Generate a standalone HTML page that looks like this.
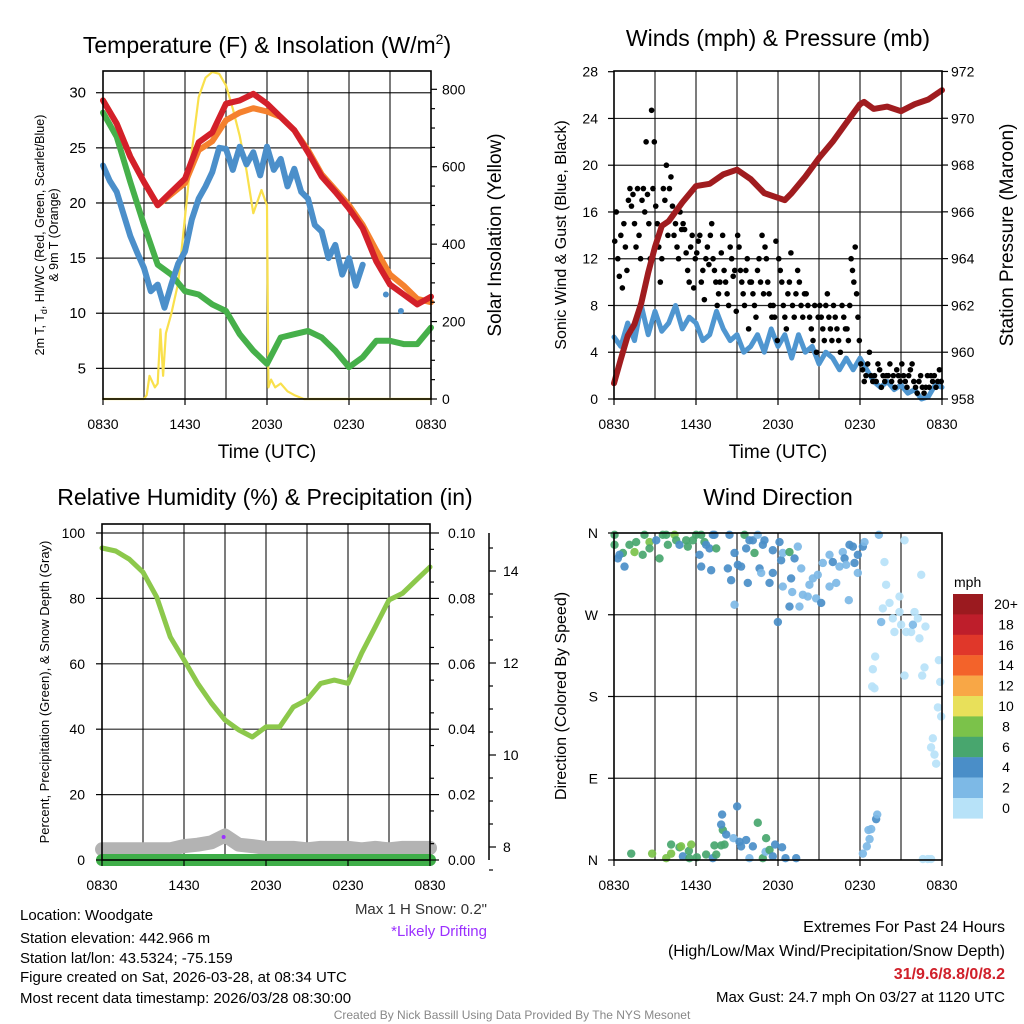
<!DOCTYPE html>
<html><head><meta charset="utf-8">
<style>
body{margin:0;background:#fff;}
svg{display:block;font-family:"Liberation Sans",Arial,sans-serif;}
</style></head>
<body>
<svg id="root" width="1024" height="1024" viewBox="0 0 1024 1024" xmlns="http://www.w3.org/2000/svg">
<rect x="0" y="0" width="1024" height="1024" fill="#fff"/>
<text x="267" y="53" font-size="23" text-anchor="middle">Temperature (F) &amp; Insolation (W/m<tspan font-size="14" dy="-9">2</tspan><tspan dy="9">)</tspan></text>
<text x="778" y="46" font-size="23" text-anchor="middle">Winds (mph) &amp; Pressure (mb)</text>
<text x="265" y="505" font-size="23" text-anchor="middle">Relative Humidity (%) &amp; Precipitation (in)</text>
<text x="778" y="505" font-size="23" text-anchor="middle">Wind Direction</text>
<text x="267" y="458" font-size="19" text-anchor="middle">Time (UTC)</text>
<text x="778" y="458" font-size="19" text-anchor="middle">Time (UTC)</text>
<text transform="translate(44,235) rotate(-90)" font-size="12.5" text-anchor="middle">2m T, T<tspan font-size="9" dy="3">d</tspan><tspan dy="-3">, HI/WC (Red, Green, Scarlet/Blue)</tspan></text>
<text transform="translate(58,235) rotate(-90)" font-size="12.5" text-anchor="middle">&amp; 9m T (Orange)</text>
<text transform="translate(501,235) rotate(-90)" font-size="19" text-anchor="middle">Solar Insolation (Yellow)</text>
<text transform="translate(566,235) rotate(-90)" font-size="16" text-anchor="middle">Sonic Wind &amp; Gust (Blue, Black)</text>
<text transform="translate(1013,235) rotate(-90)" font-size="19" text-anchor="middle">Station Pressure (Maroon)</text>
<text transform="translate(49,692) rotate(-90)" font-size="13" text-anchor="middle">Percent, Precipitation (Green), &amp; Snow Depth (Gray)</text>
<text transform="translate(566,696) rotate(-90)" font-size="16" text-anchor="middle">Direction (Colored By Speed)</text>
<text x="954" y="587" font-size="14" text-anchor="start">mph</text>
<g font-size="15">
<text x="20" y="920">Location: Woodgate</text>
<text x="20" y="943">Station elevation: 442.966 m</text>
<text x="20" y="963">Station lat/lon: 43.5324; -75.159</text>
<text x="20" y="982">Figure created on Sat, 2026-03-28, at 08:34 UTC</text>
<text x="20" y="1003">Most recent data timestamp: 2026/03/28 08:30:00</text>
</g>
<text x="487" y="914" font-size="15" fill="#333" text-anchor="end">Max 1 H Snow: 0.2"</text>
<text x="487" y="936" font-size="15" fill="#9b30ff" text-anchor="end">*Likely Drifting</text>
<text x="1005" y="932" font-size="16" text-anchor="end">Extremes For Past 24 Hours</text>
<text x="1005" y="956" font-size="16" text-anchor="end">(High/Low/Max Wind/Precipitation/Snow Depth)</text>
<text x="1005" y="979" font-size="16" font-weight="bold" fill="#d0202a" text-anchor="end">31/9.6/8.8/0/8.2</text>
<text x="1005" y="1002" font-size="15" text-anchor="end">Max Gust: 24.7 mph On 03/27 at 1120 UTC</text>
<text x="512" y="1019" font-size="12" fill="#888" text-anchor="middle">Created By Nick Bassill Using Data Provided By The NYS Mesonet</text>
</svg>
<script>
// ---------- data ----------
const hours = [0,1,2,3,4,5,6,7,8,9,10,11,12,13,14,15,16,17,18,19,20,21,22,23,24];
const halfHours = [0,0.5,1,1.5,2,2.5,3,3.5,4,4.5,5,5.5,6,6.5,7,7.5,8,8.5,9,9.5,10,10.5,11,11.5,12,12.5,13,13.5,14,14.5,15,15.5,16,16.5,17,17.5,18,18.5,19,19.5,20,20.5,21,21.5,22,22.5,23,23.5,24];
const xTickLabels = ["0830","1430","2030","0230","0830"];
const xTickHours = [0,6,12,18,24];
const tempRed = [29.3,27.2,24.2,21.9,19.8,21,22.2,25.5,26.4,29,29.3,29.9,29,27.8,26.6,24.6,22.4,21,19.5,17.7,14.7,12.6,11.7,10.8,11.5];
const tempOrange = [29.3,27.2,24.2,21.9,19.8,20.8,21.8,24.8,25.6,27.5,28.2,28.6,28.3,27.8,26.6,24.8,22.6,21.2,19.8,18,15.7,13.5,12.5,11.3,11];
const tempBlue = [23.4,22,21,19,17,15.5,14.1,12,12.6,10.5,12.6,14.5,15.6,18.5,20.4,21.5,22.8,25,24.9,23,25.1,23.5,24.6,22.5,25.1,23,24,21.5,23.1,21,20.4,18,17.4,15,16.2,13.5,15,12.5,14.4,null,null,null,null,null,null,null,null,null,null];
const blueDotsT = [20.7,21.8];
const blueDotsV = [11.7,10.2];
const tempGreen = [28.2,26,21.9,18,14.4,13.5,12,11.7,10.8,10.2,8.1,6.6,5.4,7.8,8.1,8.4,7.8,6.6,5.1,6,7.5,7.5,7.2,7.2,8.7];
const solarT = [0,3,3.2,3.4,3.8,4,4.2,4.4,4.6,5,5.5,6,6.5,7,7.5,8,8.5,9,9.5,10,10.5,11,11.6,12,12.1,12.3,12.6,13,13.5,14,14.7,24];
const solarV = [0,0,10,60,30,40,180,60,170,220,300,470,640,780,830,845,840,810,750,680,590,480,540,500,30,50,30,40,20,10,0,0];
const tempTicks = [5,10,15,20,25,30];
const solarTicks = [0,200,400,600,800];

const windSpeed = [5.3,4.5,6.5,5,8,5.5,7.5,5.8,6.5,8,6,7,6.5,5,5.5,7.5,6,5,5.5,4,4.5,5.5,4,6,4.5,5.5,3.5,5.5,4,4.5,3,4,3.5,2.5,3.5,2.5,3.5,2.5,1.5,1,1.5,0.8,1.2,0.5,0.8,0,0.2,1.2,1];
const pressureT = [0,0.5,1,1.5,2,2.5,3,3.5,4,5,6,7,8,9,10,11,12,12.5,13,14,15,16,17,18,18.3,19,20,21,22,23,24];
const pressure = [958.67,959.7,960.7,961.2,962.1,963.4,964.5,965.4,965.6,966.4,967.1,967.2,967.6,967.8,967.4,966.8,966.6,966.5,966.8,967.5,968.3,969,969.8,970.6,970.7,970.4,970.5,970.3,970.6,970.8,971.2];
const gustByHour = [
 [13.5,16,12,10.5,14,9.5,15,13,11],[17,18,16.5,17.5,15,13,18,14,12],[17,18,16,22,17.5,15,12,24.7,18,22],
 [16.5,15,13,10,12,18,17,20,14],[18,19,16.5,14,15,13,12,16,14.5],[15,14.5,12.5,11,10,13,14,9.5,12],
 [12.5,13.5,14,10,11,8.5,12,13,11.5],[14,15,12,11,10,8,9,10,12.5,14],[11,10,9,8,13,12,10.5,11,7.5],
 [14,13,11,10,9,8,11,12,6,10],[10,9,8,7,11,12,10,14,9],[13,12,10,9,8,7,8,7,13.5,5],
 [12,11,10,8,7,6,9,10,12.5],[8,7,9,11,10,8,7,9],[9,8,7,6,5,8,4,7],[8,7,6,5,8,9,7,6,5],
 [8,7,6,5,4,8,7,6],[6,5,8,12,11,10,13,9,7,5],[3,2.5,1.5,2,3,4,2,1.5],[2,1.5,3,2.5,1,2,1.5,2],
 [2,3,1.5,2,1,2.5,2,1.5],[3,2,1.5,1,2,2.5,3,1.5],[1,0.5,1.5,2,1,0.5,1,2],[1,2,1.5,2,1,1.5,2.5,1.5]];
const windTicks = [0,4,8,12,16,20,24,28];
const pressureTicks = [958,960,962,964,966,968,970,972];

const rh = [95.4,94.5,92,88,80.4,68.2,61.2,54,48,42.8,39.8,37.6,40.7,40.7,46.8,49,54,55,54,63.3,71.3,79.5,81.6,85.6,89.6];
const precip = [0,0,0,0,0,0,0,0,0,0,0,0,0,0,0,0,0,0,0,0,0,0,0,0,0];
const snowDepth = [7.95,7.95,7.95,7.95,7.95,7.95,8.02,8.05,8.1,8.25,8.05,8.02,7.98,7.98,7.98,7.95,7.98,7.98,7.98,7.95,7.98,7.95,7.98,7.98,7.98];
const rhTicks = [0,20,40,60,80,100];
const precipTicks = ["0.00","0.02","0.04","0.06","0.08","0.10"];
const snowTicks = [8,10,12,14];

const dirT = [0.04,0.04,0.28,0.65,0.77,0.4,1.13,1.5,1.62,2.1,2.23,2.6,2.6,3.09,3.33,3.57,3.82,3.94,4.43,4.55,4.79,5.28,5.4,5.77,6.01,6.26,6.38,6.62,6.74,6.99,7.23,7.35,7.48,6.38,7.11,8.45,8.82,8.33,8.57,8.82,9.06,9.3,9.55,9.67,9.79,9.91,10.16,10.28,10.52,10.65,10.77,10.89,11.01,11.38,11.62,11.62,11.99,12.11,12.23,12.35,12.35,12.84,12.96,13.04,12.84,13.21,13.45,13.57,13.7,13.82,14.18,14.3,14.55,14.79,14.91,15.16,15.28,15.77,15.77,16.01,16.26,16.5,16.74,16.87,16.99,17.18,17.23,17.48,17.6,17.84,17.84,18.21,18.33,19.38,19.79,19.91,20.89,21.26,22.48,19.55,19.67,20.16,20.4,20.52,20.89,21.01,21.38,21.74,21.87,21.99,22.23,22.35,22.79,19.11,18.94,18.89,19.06,21.26,22.72,22.55,23.77,23.87,23.7,23.94,23.33,23.2,23.45,23.57,
 1.26,2.79,3.82,4.18,4.18,4.79,4.91,5.04,5.48,5.65,5.52,6.06,6.74,7.23,7.35,7.48,7.84,8.09,7.96,8.21,7.84,7.91,9.01,8.74,9.18,9.3,9.67,9.91,10.16,10.52,10.89,11.13,11.09,11.38,11.62,11.79,12.3,12.55,13.33,18.21,18.5,18.7,18.62,18.82,19.18,19.26,22.6,22.96,23.2];
const dirDeg = [358,347,332,338,323,336,347,339,350,336,358,350,343,352,332,358,358,347,358,352,347,352,345,352,358,336,358,350,347,343,358,358,343,323,319,358,338,321,308,281,325,323,358,343,305,352,352,338,358,321,316,347,352,305,341,316,262,350,330,338,301,339,310,295,279,332,345,279,321,292,290,303,310,288,314,283,327,336,301,328,305,323,339,332,325,286,347,345,327,336,316,345,350,358,328,303,290,352,314,262,277,283,266,251,273,259,251,251,259,273,266,244,257,224,210,191,189,203,212,203,220,196,168,158,134,124,116,106,
 7,7,2,7,17,14,15,4,10,17,2,3,6,2,16,6,16,17,33,28,39,50,59,24,20,15,22,2,15,41,2,24,9,11,4,17,14,2,2,7,15,23,33,34,45,50,1,1,1];
const dirSpd = [7,7,5,7,5,5,7,9,7,7,7,9,7,5,7,7,7,7,9,7,5,7,7,7,7,5,7,7,5,5,5,5,7,5,5,5,5,5,5,3,5,5,7,5,5,5,5,7,3,5,3,5,5,5,5,5,5,5,5,3,3,7,5,3,5,5,3,3,3,3,3,3,3,3,3,5,3,3,3,5,3,3,3,5,3,3,5,5,5,5,3,5,3,3,1,1,1,1,1,3,1,1,1,1,1,1,1,1,3,1,1,1,1,1,1,1,1,1,1,1,1,1,1,1,1,1,1,1,
 7,9,9,9,7,7,9,5,7,9,7,7,7,5,7,7,7,7,7,5,5,5,5,3,5,5,5,3,5,7,7,7,3,7,5,5,5,5,5,3,3,3,3,3,5,3,1,1,1];
const dirLabels = ["N","E","S","W","N"];
const dirTicks = [0,90,180,270,360];
const cbLabels = ["20+","18","16","14","12","10","8","6","4","2","0"];
const cbColors = ["#9b1a1f","#be1e2b","#e0372a","#f3632a","#f8a746","#e8e05a","#7bc24a","#48a66e","#4a8ec8","#7db9e6","#b7e2f8"];

// ---------- helpers ----------
const NS = "http://www.w3.org/2000/svg";
const root = document.getElementById("root");
function mk(tag, attrs, parent){
  const e = document.createElementNS(NS, tag);
  for (const k in attrs) e.setAttribute(k, attrs[k]);
  (parent||root).appendChild(e);
  return e;
}
const P1 = {x:103,y:71,w:328,h:328,lo:2.22,hi:31.97,rlo:0,rhi:847.3};
const P2 = {x:614,y:71,w:328,h:328,lo:0,hi:28.06,rlo:958,rhi:972.02};
const P3 = {x:102,y:524,w:328,h:336,lo:0,hi:102.75,rlo:0,rhi:0.10275};
const P4 = {x:614,y:533,w:328,h:327,lo:0,hi:360};
function xs(p,t){return p.x + t/24*p.w;}
function ys(p,v){return p.y + p.h - (v-p.lo)/(p.hi-p.lo)*p.h;}
function yr(p,v){return p.y + p.h - (v-p.rlo)/(p.rhi-p.rlo)*p.h;}
function ysnow(v){return 847 - (v-8)*46;}
function pathP(p, ts, vs, yf){
  let d="", pen=false;
  for (let i=0;i<ts.length;i++){
    if (vs[i]===null){pen=false;continue;}
    d += (pen?"L":"M") + xs(p,ts[i]).toFixed(1)+","+yf(vs[i]).toFixed(1);
    pen=true;
  }
  return d;
}
function gridAndFrame(p, name, hTicksY){
  const g = mk("g",{});
  
  
  for (let h=3; h<24; h+=3){
    const l = mk("line",{x1:xs(p,h),x2:xs(p,h),y1:p.y,y2:p.y+p.h,stroke:"#000","stroke-width":1.2,opacity:0.85},g);
    
    
  }
  hTicksY.forEach(y=>{
    const l = mk("line",{x1:p.x,x2:p.x+p.w,y1:y,y2:y,stroke:"#000","stroke-width":1.2,opacity:0.85},g);
    
    
  });
}
function frame(p,name){
  const r = mk("rect",{x:p.x,y:p.y,width:p.w,height:p.h,fill:"none",stroke:"#000","stroke-width":1.6});
  
  
}
function xAxis(p,name,labY){
  xTickHours.forEach((h,i)=>{
    const t = mk("text",{x:xs(p,h),y:labY,"font-size":14,"text-anchor":"middle"});
    t.textContent = xTickLabels[i];
    
    
    const tk = mk("line",{x1:xs(p,h),x2:xs(p,h),y1:p.y+p.h,y2:p.y+p.h+6,stroke:"#000","stroke-width":1.2});
    
    
  });
}
function yLabel(x,y,txt,anchor,name,size){
  const t = mk("text",{x:x,y:y+5,"font-size":size||14,"text-anchor":anchor});
  t.textContent = txt;
  
  
}
function tick(x1,x2,y,name){
  const l = mk("line",{x1:x1,x2:x2,y1:y,y2:y,stroke:"#000","stroke-width":1.2});
  
  
}
function line(d,color,w,name){
  const e = mk("path",{d:d,fill:"none",stroke:color,"stroke-width":w,"stroke-linejoin":"round","stroke-linecap":"round"});
  
  
  return e;
}
function dot(cx,cy,r,color,name){
  const c = mk("circle",{cx:cx,cy:cy,r:r,fill:color});
  
  
}

// ---------- Panel 1 ----------
gridAndFrame(P1,"temp",tempTicks.map(v=>ys(P1,v)));
line(pathP(P1,solarT,solarV,v=>yr(P1,v)),"#f9e04c",2.2,"solar-insolation-line");
line(pathP(P1,hours,tempGreen,v=>ys(P1,v)),"#46b04a",6,"dewpoint-line");
line(pathP(P1,halfHours,tempBlue,v=>ys(P1,v)),"#4b8fca",6,"windchill-line");
blueDotsT.forEach((t,i)=>dot(xs(P1,t),ys(P1,blueDotsV[i]),3,"#4b8fca","windchill-point"));
line(pathP(P1,hours,tempOrange,v=>ys(P1,v)),"#f5812e",6,"temp-9m-line");
line(pathP(P1,hours,tempRed,v=>ys(P1,v)),"#d3202a",6,"temp-2m-line");
frame(P1,"temp");
xAxis(P1,"temp",429);
tempTicks.forEach(v=>{const y=ys(P1,v);tick(P1.x-7,P1.x,y,"temp-y-tick");yLabel(86,y,String(v),"end","temp-y-tick-label",15);});
solarTicks.forEach(v=>{const y=yr(P1,v);tick(P1.x+P1.w,P1.x+P1.w+6,y,"solar-y-tick");yLabel(442,y,String(v),"start","solar-y-tick-label",14);});
for (let v=50; v<850; v+=50){ if (v%200) tick(P1.x+P1.w,P1.x+P1.w+4,yr(P1,v),"solar-minor-tick"); }

// ---------- Panel 2 ----------
gridAndFrame(P2,"winds",windTicks.slice(1,-1).map(v=>ys(P2,v)));
line(pathP(P2,halfHours,windSpeed,v=>ys(P2,v)),"#4f96d0",5,"sonic-wind-line");
gustByHour.forEach((arr,h)=>{
  arr.forEach((v,i)=>{
    dot(xs(P2,h+(i+0.5)/arr.length),ys(P2,v),2.8,"#000","gust-point");
  });
});
line(pathP(P2,pressureT,pressure,v=>yr(P2,v)),"#a01c1f",6,"pressure-line");
frame(P2,"winds");
xAxis(P2,"winds",429);
windTicks.forEach(v=>{const y=ys(P2,v);tick(P2.x-6,P2.x,y,"wind-y-tick");yLabel(598,y,String(v),"end","wind-y-tick-label",14);});
pressureTicks.forEach(v=>{const y=yr(P2,v);tick(P2.x+P2.w,P2.x+P2.w+6,y,"pressure-y-tick");yLabel(951,y,String(v),"start","pressure-y-tick-label",14);});

// ---------- Panel 3 ----------
gridAndFrame(P3,"rh",rhTicks.slice(1,-1).map(v=>ys(P3,v)).concat([ys(P3,100)]));
line(pathP(P3,hours,snowDepth,ysnow),"#b3b3b3",14,"snow-depth-line");
line(pathP(P3,hours,precip,v=>yr(P3,v)),"#3fae49",12,"precipitation-line");
line(pathP(P3,hours,rh,v=>ys(P3,v)),"#8cc84b",5,"relative-humidity-line");
dot(xs(P3,8.9),837,2,"#9b30ff","drifting-marker");
frame(P3,"rh");
xAxis(P3,"rh",890);
rhTicks.forEach(v=>{const y=ys(P3,v);tick(P3.x-6,P3.x,y,"rh-y-tick");yLabel(85,y,String(v),"end","rh-y-tick-label",14);});
precipTicks.forEach((s,i)=>{const y=yr(P3,i*0.02);tick(P3.x+P3.w,P3.x+P3.w+9,y,"precip-y-tick");yLabel(448,y,s,"start","precip-y-tick-label",14);});
for (let i=1;i<20;i+=2) tick(P3.x+P3.w,P3.x+P3.w+4,yr(P3,i*0.005),"precip-minor-tick");
const snowAxis = mk("line",{x1:489,x2:489,y1:533,y2:860,stroke:"#000","stroke-width":1.5});


snowTicks.forEach(v=>{const y=ysnow(v);tick(489,496,y,"snow-y-tick");yLabel(503,y,String(v),"start","snow-y-tick-label",14);});
for (let v=7.5; v<15; v+=0.5){ if (v%2) tick(489,493,ysnow(v),"snow-minor-tick"); }

// ---------- Panel 4 ----------
gridAndFrame(P4,"direction",[90,180,270].map(v=>ys(P4,v)));
function spdColor(s){ const idx = Math.min(10, Math.floor(s/2)); return cbColors[10-idx]; }
dirT.forEach((t,i)=>{
  const c = mk("circle",{cx:xs(P4,t),cy:ys(P4,dirDeg[i]),r:4.2,fill:spdColor(dirSpd[i]),opacity:0.92});
  
  
});
frame(P4,"direction");
xAxis(P4,"direction",890);
dirTicks.forEach((v,i)=>{const y=ys(P4,v);tick(P4.x-6,P4.x,y,"direction-y-tick");yLabel(598,y,dirLabels[i],"end","direction-y-tick-label",14);});
cbLabels.forEach((s,i)=>{
  const y = 594 + i*20.4;
  const r = mk("rect",{x:953,y:y,width:30,height:20.6,fill:cbColors[i]});
  
  
  const t = mk("text",{x:1006,y:y+15,"font-size":14,"text-anchor":"middle"});
  t.textContent = s;
  
  
});
</script>
</body></html>
